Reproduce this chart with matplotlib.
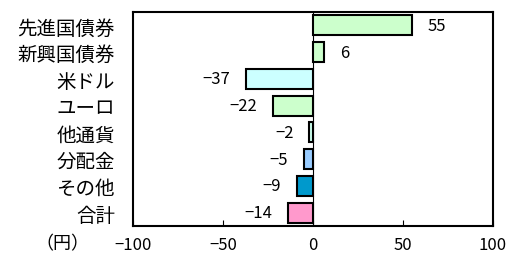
import matplotlib
matplotlib.use("Agg")
import matplotlib.pyplot as plt

plt.rcParams['font.family'] = ['Noto Sans CJK JP', 'DejaVu Sans']

categories = ["先進国債券", "新興国債券", "米ドル", "ユーロ", "他通貨", "分配金", "その他", "合計"]
values = [55, 6, -37, -22, -2, -5, -9, -14]
colors = ["#CCFFCC", "#CCFFCC", "#CCFFFF", "#CCFFCC", "#CCFFEE", "#99CCFF", "#0099CC", "#FF99CC"]
xticks = [-100, -50, 0, 50, 100]
xtick_labels = ["\u2212100", "\u221250", "0", "50", "100"]

fig = plt.figure(figsize=(5.07, 2.55), dpi=100)
ax = fig.add_axes([133/507, 1 - 227/255, 360/507, 214/255])

ypos = list(range(len(categories)))
ax.barh(ypos, values, height=0.75, color=colors, edgecolor="black", linewidth=1.5, zorder=3)
ax.axvline(0, color="black", linewidth=0.8, zorder=2)

for y, v in zip(ypos, values):
    txt = str(v) if v >= 0 else "\u2212" + str(-v)
    ax.annotate(txt, (v, y), xytext=(16 if v >= 0 else -16, 0), textcoords="offset pixels",
                ha="left" if v >= 0 else "right", va="center", fontsize=12)

ax.set_xlim(-100, 100)
ax.set_ylim(len(categories) - 0.5, -0.5)
ax.set_yticks(ypos)
ax.set_yticklabels(categories, fontsize=14)
ax.tick_params(axis="y", length=0, pad=13)
ax.set_xticks(xticks)
ax.set_xticklabels(xtick_labels, fontsize=12)
ax.tick_params(axis="x", direction="in", length=4, width=0.8, pad=7)
for s in ax.spines.values():
    s.set_linewidth(1.5)

fig.text(62/507, 1 - 244/255, "（円）", ha="center", va="center", fontsize=13)

fig.savefig("out.png", dpi=100)
